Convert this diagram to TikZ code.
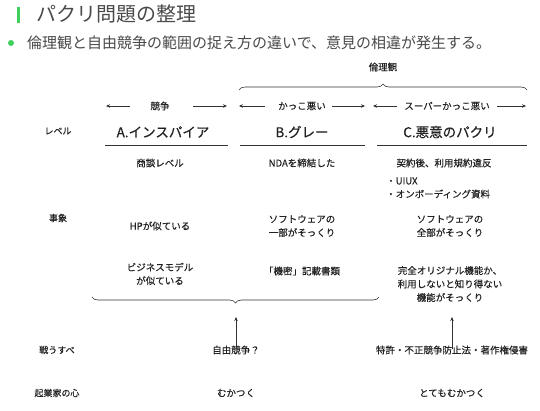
\documentclass[tikz,border=0pt]{standalone}
\usepackage{fontspec}
\setmainfont{Noto Sans CJK JP}[FakeBold=0.25]
\newfontfamily\headfont{Noto Sans CJK JP}[FakeBold=0.45]
\newfontfamily\plainfont{Noto Sans CJK JP}
\usetikzlibrary{decorations.pathreplacing,arrows.meta}
\definecolor{lgreen}{HTML}{3FD05E}
\definecolor{txt}{HTML}{222222}
\definecolor{ttl}{HTML}{4A4A4A}
\definecolor{ln}{HTML}{333333}
\begin{document}
\begin{tikzpicture}[x=1pt,y=-1pt,
  lbl/.style={inner sep=0pt, text=txt, font=\fontsize{9.5}{13.5}\selectfont, align=center},
  side/.style={lbl, font=\fontsize{9}{12}\selectfont},
  head/.style={inner sep=0pt, text=txt, font=\headfont\fontsize{13.5}{16}\selectfont},
  arr/.style={-{Stealth[length=4pt,width=3.5pt]}, line width=0.6pt, draw=ln},
  uline/.style={line width=0.6pt, draw=ln},
  brc/.style={decorate, decoration={brace, amplitude=6pt}, line width=0.6pt, draw=ln}]
\useasboundingbox (0,0) rectangle (540,410);
\fill[white] (0,0) rectangle (540,410);
% title
\fill[lgreen] (17,7) rectangle (20,23);
\node[anchor=west, inner sep=0pt, text=ttl, font=\plainfont\fontsize{20}{22}\selectfont] (title) at (36,14) {パクリ問題の整理};
\fill[lgreen] (11,43) circle (3);
\node[anchor=west, inner sep=0pt, text=ttl, font=\plainfont\fontsize{15}{17}\selectfont] (sub) at (27,43) {倫理観と自由競争の範囲の捉え方の違いで、意見の相違が発生する。};
% top brace
\node[lbl] (rinri) at (383,67) {倫理観};
\coordinate (tbL) at (239,90);
\coordinate (tbR) at (527,90);
\draw[brc] (tbL) -- (tbR);
% arrow row
\node[lbl] (kyoso) at (160,106) {競争};
\node[lbl] (kakko) at (302,106) {かっこ悪い};
\node[lbl] (super) at (447,106) {スーパーかっこ悪い};
\coordinate (a1s) at (130,106); \coordinate (a1e) at (106,106);
\coordinate (a2s) at (193,106); \coordinate (a2e) at (227,106);
\coordinate (a3s) at (265,106); \coordinate (a3e) at (239,106);
\coordinate (a4s) at (332,106); \coordinate (a4e) at (365,106);
\coordinate (a5s) at (397,106); \coordinate (a5e) at (373,106);
\coordinate (a6s) at (497,106); \coordinate (a6e) at (526,106);
\draw[arr] (a1s) -- (a1e);
\draw[arr] (a2s) -- (a2e);
\draw[arr] (a3s) -- (a3e);
\draw[arr] (a4s) -- (a4e);
\draw[arr] (a5s) -- (a5e);
\draw[arr] (a6s) -- (a6e);
% headings
\node[side] (level) at (58,131) {レベル};
\node[head] (hA) at (163,132) {A.インスパイア};
\node[head] (hB) at (302,132) {B.グレー};
\node[head] (hC) at (450,132) {C.悪意のパクリ};
\coordinate (uA1) at (105,145); \coordinate (uA2) at (228,145);
\coordinate (uB1) at (240,145); \coordinate (uB2) at (365,145);
\coordinate (uC1) at (377,145); \coordinate (uC2) at (527,145);
\draw[uline] (uA1) -- (uA2);
\draw[uline] (uB1) -- (uB2);
\draw[uline] (uC1) -- (uC2);
% row 1
\node[lbl] (a1) at (160,163) {商談レベル};
\node[lbl] (b1) at (302,163) {NDAを締結した};
\node[lbl] (c1) at (444,163) {契約後、利用規約違反};
\node[lbl, anchor=west] (c1a) at (386,181) {・UIUX};
\node[lbl, anchor=west] (c1b) at (386,194) {・オンボーディング資料};
% row 2
\node[side] (jisho) at (58,218) {事象};
\node[lbl] (a2) at (160,226) {HPが似ている};
\node[lbl] (b2) at (302,226) {ソフトウェアの\\一部がそっくり};
\node[lbl] (c2) at (450,226) {ソフトウェアの\\全部がそっくり};
% row 3
\node[lbl] (a3) at (160,274) {ビジネスモデル\\が似ている};
\node[lbl] (b3) at (302,271) {「機密」記載書類};
\node[lbl] (c3) at (450,284) {完全オリジナル機能か、\\利用しないと知り得ない\\機能がそっくり};
% bottom brace
\coordinate (bbL) at (92,297);
\coordinate (bbR) at (379,297);
\draw[brc] (bbR) -- (bbL);
% bottom rows
\node[side] (tatakau) at (57,350) {戦うすべ};
\node[lbl] (jiyu) at (236,350) {自由競争？};
\node[lbl] (tokkyo) at (452,350) {特許・不正競争防止法・著作権侵害};
\coordinate (tipA) at (236,317);
\coordinate (tipB) at (452,317);
\draw[arr] ([yshift=-4pt]jiyu.north) -- (tipA);
\draw[arr] ([yshift=-4pt]tokkyo.north) -- (tipB);
\node[side] (kigyo) at (57,393) {起業家の心};
\node[lbl] (muka) at (236,393) {むかつく};
\node[lbl] (totemo) at (452,393) {とてもむかつく};
\end{tikzpicture}
\end{document}
